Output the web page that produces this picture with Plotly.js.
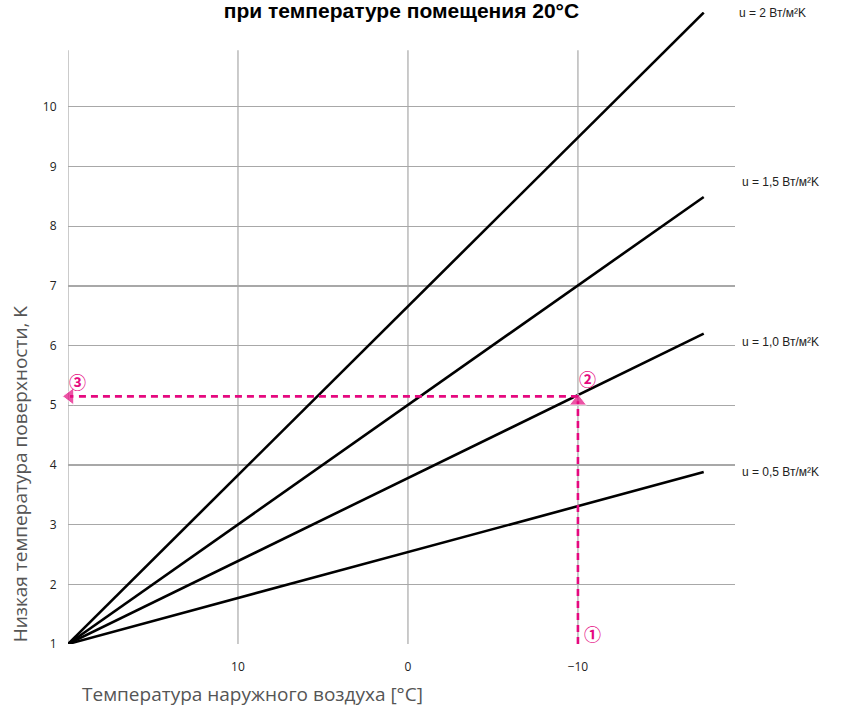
<!DOCTYPE html>
<html>
<head>
<meta charset="utf-8">
<script src="https://cdn.plot.ly/plotly-3.0.1.min.js"></script>
<style>html,body{margin:0;padding:0;background:#fff;}#chart{width:845px;height:706px;}</style>
</head>
<body>
<div id="chart"></div>
<script>
// Data
const seriesLabels = ['u = 0,5 Вт/м²K', 'u = 1,0 Вт/м²K', 'u = 1,5 Вт/м²K', 'u = 2 Вт/м²K'];
const outdoorStart = 20;       // °C, left end of every line
const outdoorEnd = -17.4;      // °C, right end of every line
const surfaceStart = [1, 1, 1, 1];
const surfaceEnd = [3.88, 6.2, 8.49, 11.58];
const xTickVals = [10, 0, -10];
const xTickText = ['10', '0', '\u221210'];
const yTickVals = [1, 2, 3, 4, 5, 6, 7, 8, 9, 10];
const gridX = [20, 10, 0, -10];
const gridTop = 10.95;
const exampleX = [-10, -10];       // vertical read line
const exampleY = [1, 5.15];
const readX = [-10, 20];           // horizontal read line
const readY = [5.15, 5.15];
const markerText = ['\u2460', '\u2461', '\u2462'];

const magenta = '#e5097f';
const gridColor = '#a8a8a8';
const traces = [];

// vertical grid lines
gridX.forEach(gx => {
  traces.push({x: [gx, gx], y: [1, gridTop], mode: 'lines', line: {color: gridColor, width: 1.2}, hoverinfo: 'skip', showlegend: false});
});

// main lines
seriesLabels.forEach((lab, i) => {
  traces.push({x: [outdoorStart, outdoorEnd], y: [surfaceStart[i], surfaceEnd[i]], mode: 'lines', name: lab,
    line: {color: '#000', width: 2.6}, showlegend: false});
});

// example read lines
traces.push({x: exampleX, y: exampleY, mode: 'lines+markers', showlegend: false, cliponaxis: false,
  line: {color: magenta, width: 2.6, dash: '7px,5px'},
  marker: {symbol: 'triangle-up', size: [0, 15], color: magenta, angleref: 'previous', standoff: 5}});
traces.push({x: readX, y: readY, mode: 'lines+markers', showlegend: false, cliponaxis: false,
  line: {color: magenta, width: 2.6, dash: '7px,5px'},
  marker: {symbol: 'triangle-up', size: [0, 15], color: magenta, angleref: 'previous', standoff: 2}});

const annFont = {family: 'Liberation Sans, Arial, sans-serif', size: 12, color: '#222'};
const labelShift = [0, -8, 15, 0];
const annotations = seriesLabels.map((lab, i) => ({
  xref: 'paper', yref: 'y', x: 1, y: surfaceEnd[i], xanchor: 'left', yanchor: 'middle',
  xshift: 5 + (i === 3 ? -3 : 0), yshift: labelShift[i], text: lab, showarrow: false, font: annFont
}));

const circFont = {family: 'Noto Sans CJK JP, sans-serif', size: 17, color: magenta, weight: 'bold'};
annotations.push({xref: 'x', yref: 'y', x: exampleX[0], y: exampleY[0], xshift: 15, yshift: 11, text: markerText[0], showarrow: false, font: circFont});
annotations.push({xref: 'x', yref: 'y', x: exampleX[1], y: exampleY[1], xshift: 10, yshift: 18, text: markerText[1], showarrow: false, font: circFont});
annotations.push({xref: 'x', yref: 'y', x: readX[1], y: readY[1], xshift: 9, yshift: 15, text: markerText[2], showarrow: false, font: circFont});

// axis titles
annotations.push({xref: 'paper', yref: 'paper', x: -0.072, y: 0.27, textangle: -90, xanchor: 'center', yanchor: 'middle',
  text: 'Низкая температура поверхности, K', showarrow: false, font: {family: 'Open Sans, sans-serif', size: 19, color: '#555'}});
annotations.push({xref: 'paper', yref: 'paper', x: 0.018, y: -0.079, xanchor: 'left', yanchor: 'middle',
  text: 'Температура наружного воздуха [°C]', showarrow: false, font: {family: 'Open Sans, sans-serif', size: 19, color: '#555'}});

const layout = {
  width: 845, height: 706,
  margin: {l: 68, r: 110, t: 12, b: 62},
  paper_bgcolor: '#fff', plot_bgcolor: '#fff',
  title: {text: '<b>при температуре помещения 20°C</b>', x: 0.5, xref: 'paper', y: 0.995, yref: 'container', yanchor: 'top',
    pad: {t: 0}, font: {family: 'Liberation Sans, Arial, sans-serif', size: 21, color: '#000'}},
  xaxis: {range: [20, -19.24], tickvals: xTickVals, ticktext: xTickText, showgrid: false, zeroline: false, showline: false,
    ticks: 'outside', ticklen: 12, tickcolor: 'rgba(0,0,0,0)', tickfont: {family: 'Open Sans, sans-serif', size: 12, color: '#222'}},
  yaxis: {range: [1, 11.59], tickvals: yTickVals, showgrid: true, gridcolor: gridColor, gridwidth: 1.2, zeroline: false, showline: false,
    ticks: 'outside', ticklen: 8, tickcolor: 'rgba(0,0,0,0)', tickfont: {family: 'Open Sans, sans-serif', size: 12, color: '#222'}},
  annotations: annotations,
  showlegend: false
};

Plotly.newPlot('chart', traces, layout, {displayModeBar: false, staticPlot: true});
</script>
</body>
</html>
